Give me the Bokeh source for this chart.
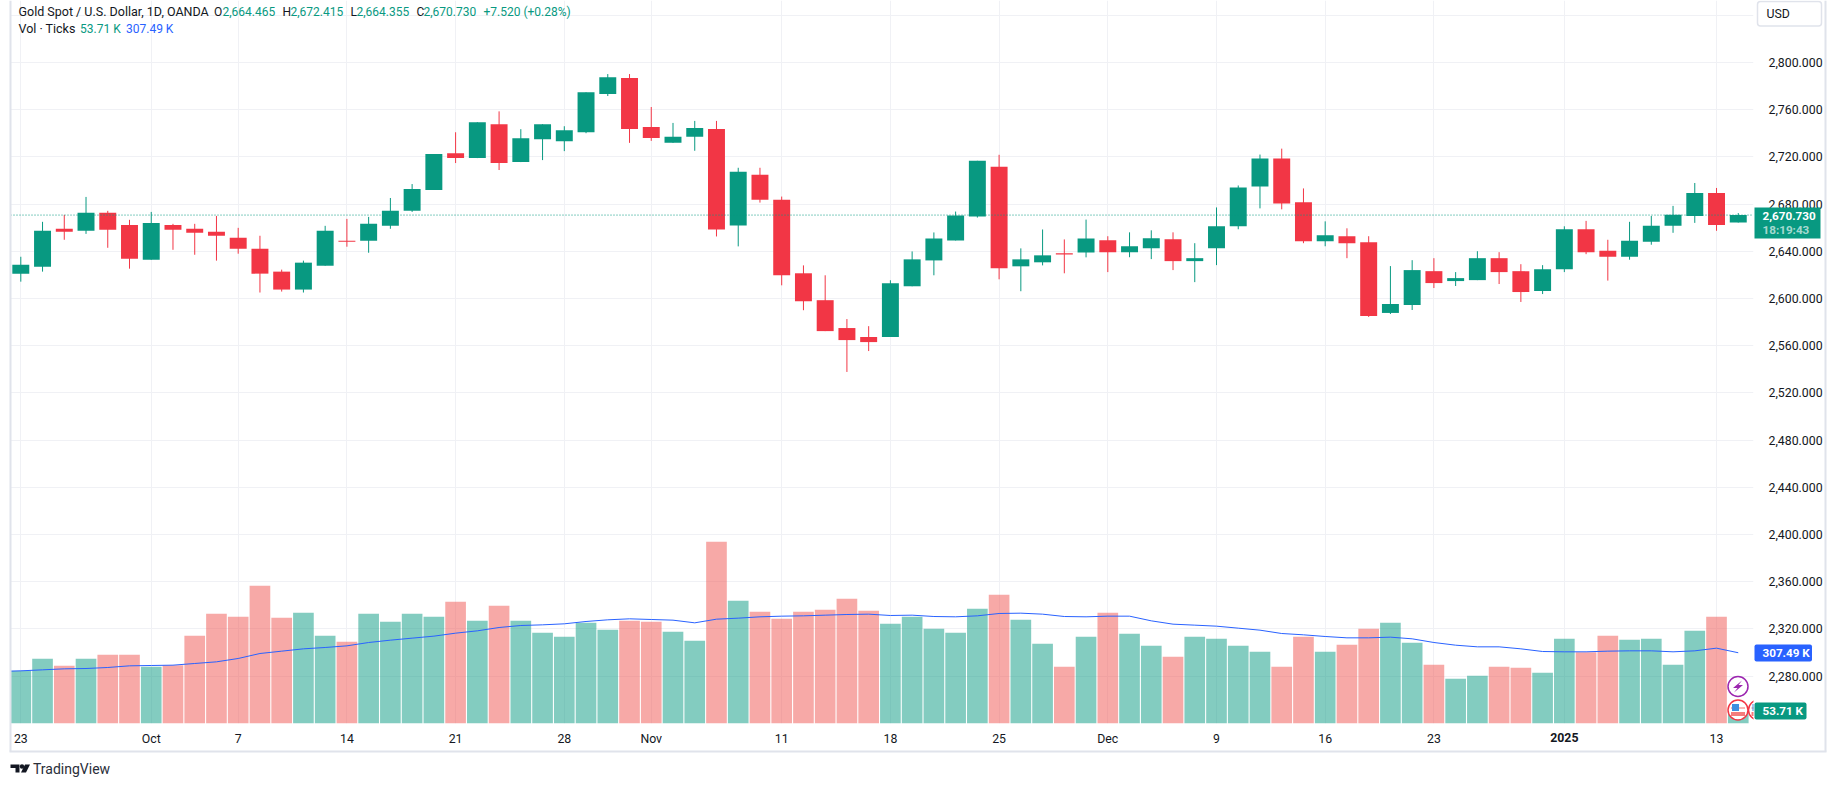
from bokeh.plotting import figure
from bokeh.layouts import column
from bokeh.core.properties import value
from bokeh.models import FixedTicker, LinearAxis, Range1d, Span, ColumnDataSource, Grid
from bokeh.embed import file_html
from bokeh.resources import INLINE

# ------- data -------
opens = [2621.1,2627.0,2659.1,2657.4,2672.6,2662.4,2632.9,2662.4,2659.1,2656.5,
         2651.5,2642.2,2622.8,2607.6,2627.8,2648.9,2648.9,2661.6,2674.3,2692.0,
         2723.2,2719.0,2747.7,2715.6,2735.0,2733.3,2740.9,2773.3,2786.8,2745.4,
         2731.9,2737.0,2743.7,2661.9,2704.9,2683.8,2621.4,2598.6,2575.0,2567.4,
         2567.4,2610.4,2632.3,2649.2,2669.5,2711.7,2627.3,2630.7,2638.3,2639.1,
         2649.4,2639.3,2642.6,2650.2,2631.7,2642.6,2661.2,2695.0,2718.6,2681.5,
         2648.5,2652.8,2647.7,2587.8,2594.5,2623.2,2614.8,2615.6,2634.2,2623.2,
         2606.4,2624.9,2658.7,2640.5,2635.4,2648.1,2661.6,2670.0,2689.4,2664.465]
highs = [2635.4,2665.0,2670.9,2686.1,2674.3,2666.7,2673.4,2663.3,2663.3,2670.0,
         2659.9,2653.2,2624.5,2632.1,2661.6,2667.5,2669.2,2685.2,2697.0,2722.4,
         2740.9,2749.4,2758.6,2743.5,2747.7,2746.0,2774.7,2790.2,2790.2,2762.3,
         2748.8,2750.5,2750.5,2710.8,2710.8,2686.4,2628.1,2619.7,2582.6,2576.6,
         2615.5,2639.9,2656.0,2673.7,2716.7,2721.8,2642.5,2658.5,2650.1,2666.9,
         2652.8,2656.1,2657.8,2656.1,2646.9,2677.2,2695.8,2722.0,2727.0,2693.3,
         2665.4,2659.5,2652.8,2627.5,2632.5,2634.2,2622.4,2640.1,2639.3,2629.1,
         2628.3,2661.2,2665.8,2649.8,2665.0,2670.0,2678.5,2697.9,2693.7,2672.415]
lows = [2614.3,2622.8,2649.8,2654.8,2643.0,2625.3,2632.9,2641.3,2637.1,2632.1,
        2638.0,2605.1,2605.9,2605.1,2627.8,2643.9,2638.8,2659.1,2673.4,2692.0,
        2714.8,2719.0,2708.9,2715.6,2717.3,2724.9,2740.1,2771.6,2731.9,2733.6,
        2731.9,2725.2,2652.6,2644.2,2681.3,2611.2,2590.1,2572.4,2537.8,2555.5,
        2567.4,2610.4,2619.7,2649.2,2668.6,2616.3,2606.2,2628.1,2621.4,2634.9,
        2622.4,2635.0,2633.4,2624.1,2613.9,2628.3,2658.7,2676.4,2675.6,2646.9,
        2644.3,2634.2,2584.4,2586.9,2590.3,2608.9,2610.6,2615.6,2612.3,2597.1,
        2603.8,2622.4,2637.6,2615.2,2632.9,2645.6,2655.7,2664.1,2657.4,2664.355]
closes = [2628.7,2657.4,2656.5,2672.6,2658.2,2633.8,2664.1,2658.2,2655.7,2653.2,
          2642.2,2621.1,2607.6,2630.4,2657.4,2648.1,2663.3,2674.3,2692.8,2722.4,
          2719.0,2749.4,2714.8,2735.9,2747.7,2742.6,2774.7,2787.6,2743.7,2736.1,
          2737.0,2744.6,2658.5,2707.5,2683.8,2619.7,2597.7,2572.4,2564.8,2563.1,
          2612.9,2633.2,2650.9,2670.3,2716.7,2625.6,2633.2,2636.6,2637.4,2650.9,
          2639.3,2644.3,2651.1,2631.7,2634.2,2661.2,2694.1,2718.6,2680.6,2648.5,
          2653.6,2646.9,2585.3,2595.4,2624.1,2613.1,2617.3,2634.2,2622.4,2605.5,
          2624.9,2658.7,2639.3,2635.4,2648.9,2661.6,2670.9,2689.4,2662.4,2670.730]
volumes_k = [228.9,281.0,250.6,281.0,298.4,298.4,246.3,253.5,381.0,476.6,
             463.6,598.3,459.2,481.0,381.0,354.9,476.6,441.9,476.6,463.6,
             528.8,446.2,511.4,446.2,394.0,376.7,437.5,407.1,446.2,441.9,
             398.4,359.3,789.5,533.1,485.3,454.9,485.3,494.0,541.8,489.7,
             433.2,463.6,411.4,394.0,498.4,559.2,450.5,346.2,246.3,376.7,
             481.0,389.7,337.5,289.7,376.7,368.0,337.5,311.5,246.3,376.7,
             311.5,341.9,411.4,437.5,350.6,255.0,194.1,207.2,246.3,241.9,
             220.2,368.0,310.0,381.0,363.6,368.0,255.0,402.7,463.6,53.71]
vol_ma_k = [226.0,228.9,233.2,237.6,239.0,243.4,250.6,252.1,253.5,260.8,268.0,
            282.5,304.2,314.4,324.5,330.3,337.5,352.0,362.2,370.9,379.6,
            392.6,402.7,417.2,425.9,428.8,433.2,443.3,450.6,454.9,452.0,
            449.1,437.5,453.4,457.8,463.6,466.5,467.9,470.8,473.7,475.2,
            469.4,470.8,465.0,463.6,467.9,478.1,479.5,475.2,465.0,463.6,
            466.5,466.5,446.2,431.7,427.4,423.0,414.3,405.6,391.1,385.4,
            378.1,372.3,372.3,375.2,368.0,352.0,340.4,333.2,333.2,324.5,
            312.9,311.5,311.5,314.4,315.8,315.8,311.5,315.8,327.4,307.49]
price_ticks = [2280,2320,2360,2400,2440,2480,2520,2560,2600,2640,2680,2720,2760,2800,2840]
time_ticks = [0,6,10,15,20,25,29,35,40,45,50,55,60,65,71,78]
time_labels = ["23","Oct","7","14","21","28","Nov","11","18","25","Dec","9","16","23","2025","13"]
last_price = 2670.730

# ------- page layout in pixels -------
W, H = 1835, 786
L, R, T, B = 10, 1753, 0, 723          # pane edges
X0, DX = 20.3, 21.74                   # first bar centre, bar step
Y2800, PPU = 62.0, 1.1802              # 2800 line, px per price unit
VPPK = 0.2301                          # px per 1K volume

def xd(px): return (px - X0) / DX
def yd(py): return 2800 + (Y2800 - py) / PPU

GREEN, RED, VRED, BLUE, INK = "#089981", "#f23645", "#ef5350", "#2962ff", "#131722"
GRID, EDGE = "#f0f1f5", "#e0e3eb"
FONT = "Roboto"
FS = "12.3px"
TAG = "11.7px"

p = figure(width=W, height=H, output_backend="svg", toolbar_location=None,
           x_range=Range1d(xd(L), xd(R)), y_range=Range1d(yd(B), yd(T)),
           min_border_left=L, min_border_right=W - R, min_border_top=T, min_border_bottom=H - B,
           background_fill_color="white", border_fill_color="white", outline_line_color=None,
           x_axis_location=None, y_axis_location=None, frame_align=False)
p.grid.visible = False
p.extra_y_ranges = {"vol": Range1d(0, (B - T) / VPPK)}

ax = LinearAxis(ticker=FixedTicker(ticks=price_ticks),
                major_label_overrides={t: f"{t:,}.000" for t in price_ticks} | {2840: ""})
ay = LinearAxis(ticker=FixedTicker(ticks=time_ticks),
                major_label_overrides={t: s for t, s in zip(time_ticks, time_labels)} | {71: ""})
for a in (ax, ay):
    a.axis_line_color = None
    a.major_tick_line_color = None
    a.minor_tick_line_color = None
    a.major_label_text_color = INK
    a.major_label_text_font = FONT
    a.major_label_text_font_size = FS
p.add_layout(ax, "right")
p.add_layout(ay, "below")
ax.major_label_standoff = 9
ay.major_label_standoff = 2

p.add_layout(Grid(dimension=0, ticker=FixedTicker(ticks=time_ticks), grid_line_color=GRID, grid_line_width=1))
p.add_layout(Grid(dimension=1, ticker=FixedTicker(ticks=price_ticks), grid_line_color=GRID, grid_line_width=1))

n = len(closes)
idx = list(range(n))
colors = [GREEN if c >= o else RED for o, c in zip(opens, closes)]
vcolors = [GREEN if c >= o else VRED for o, c in zip(opens, closes)]
src = ColumnDataSource(dict(x=idx, o=opens, h=highs, l=lows, c=closes, v=volumes_k, col=colors, vcol=vcolors,
                            top=[max(o, c) for o, c in zip(opens, closes)],
                            bot=[min(o, c) for o, c in zip(opens, closes)]))

p.vbar(x="x", top="v", bottom=0, width=0.95, fill_color="vcol", fill_alpha=0.5, line_color=None,
       source=src, y_range_name="vol")
p.line(list(range(-1, n)), vol_ma_k, line_color=BLUE, line_width=1, y_range_name="vol")
p.add_layout(Span(location=last_price, dimension="width", line_color=GREEN, line_width=1, line_dash="1 2"))
p.segment(x0="x", x1="x", y0="l", y1="h", line_color="col", line_width=1, source=src)
p.vbar(x="x", top="top", bottom="bot", width=0.78, fill_color="col", line_color=None, source=src)

# event icons on the volume pane
bx, by = 1737.5, 686
p.scatter([xd(bx)], [yd(by)], marker="circle", size=20, fill_color="white", line_color="#9c27b0", line_width=1.5)
p.patch([xd(bx + u) for u in (4, -5, -0.5, -4, 5, 0.5)], [yd(by + v) for v in (-6, 1.5, 1.5, 6, -1.5, -1.5)],
        fill_color="#9c27b0", line_color=None)
for cx in (1737.5, 1758):
    cy = 709.5
    p.scatter([xd(cx)], [yd(cy)], marker="circle", size=20, fill_color="white", line_color=RED, line_width=1.5)
    p.quad(left=[xd(cx - 7)], right=[xd(cx + 7)], top=[yd(cy + 2)], bottom=[yd(cy + 6)], fill_color="#f47c7c", line_color=None)
    p.quad(left=[xd(cx - 7)], right=[xd(cx + 7)], top=[yd(cy - 3)], bottom=[yd(cy - 1)], fill_color="#f9b5b5", line_color=None)
    p.quad(left=[xd(cx - 6)], right=[xd(cx + 1)], top=[yd(cy - 6)], bottom=[yd(cy + 1)], fill_color="#3d8fe0", line_color=None)

# ------- transparent sheet over the page for what lies outside the plot area -------
q = figure(width=W, height=H, output_backend="svg", toolbar_location=None,
           x_range=Range1d(0, W), y_range=Range1d(H, 0), min_border=0,
           background_fill_alpha=0, border_fill_alpha=0, outline_line_color=None,
           x_axis_location=None, y_axis_location=None, frame_align=False)
q.grid.visible = False
q.styles = {"margin-top": f"-{H}px", "pointer-events": "none"}

def box(x0, x1, y0, y1, fill, line=None, lw=1, radius=0):
    q.quad(left=[x0], right=[x1], top=[y0], bottom=[y1], fill_color=fill, line_color=line, line_width=lw,
           border_radius=radius)

def txt(s, px, py, color=INK, size=FS, style="normal", align="left", alpha=1.0):
    q.text([px], [py], text=[s], text_color=color, text_font=value(FONT), text_font_size=value(size),
           text_font_style=style, text_align=align, text_baseline="middle", text_alpha=alpha)

# chart frame
q.segment(x0=[10, 9, 1825], x1=[10, 1826, 1825], y0=[0, 751, 0], y1=[751, 751, 751], line_color=EDGE, line_width=2)

# bold year label on the time axis
txt("2025", X0 + 71 * DX, 737, style="bold", align="center")

# legend
LEG = "12.5px"
VAL = "12px"
txt("Gold Spot / U.S. Dollar, 1D, OANDA", 18, 11, size=LEG)
for s, x, c in [("O", 213.5, INK), ("2,664.465", 222, GREEN), ("H", 282, INK), ("2,672.415", 290, GREEN),
                ("L", 350, INK), ("2,664.355", 356, GREEN), ("C", 416, INK), ("2,670.730", 423, GREEN),
                ("+7.520 (+0.28%)", 483, GREEN)]:
    txt(s, x, 11, color=c, size=VAL)
txt("Vol · Ticks", 18, 28, size=LEG)
txt("53.71 K", 79.6, 28, color=GREEN, size=VAL)
txt("307.49 K", 125.5, 28, color=BLUE, size=VAL)

# scale tags
box(1757, 1821, 1, 25.5, "white", line=EDGE, lw=1.5, radius=3)
txt("USD", 1766, 13.5)
box(1754, 1820, 207, 238, GREEN)
txt("2,670.730", 1762, 215, color="white", style="bold", size=TAG)
txt("18:19:43", 1762, 229, color="white", alpha=0.65, style="bold", size=TAG)
box(1754, 1811.5, 644, 661, BLUE, radius=2)
txt("307.49 K", 1762, 652.5, color="white", style="bold", size=TAG)
box(1754, 1806, 702, 719, GREEN, radius=2)
txt("53.71 K", 1762, 710.5, color="white", style="bold", size=TAG)

# TradingView mark
q.patch([10, 19, 19, 15, 15, 10], [764, 764, 772, 772, 767.5, 767.5], fill_color=INK, line_color=None)
q.scatter([21.5], [766], marker="circle", size=4.5, fill_color=INK, line_color=None)
q.patch([24.5, 29.5, 25.5, 20.5], [764, 764, 772, 772], fill_color=INK, line_color=None)
txt("TradingView", 32.5, 768, size="14px", color="#2a2e39")

layout = column(p, q, spacing=0)
open("out.html", "w").write(file_html(layout, INLINE))
